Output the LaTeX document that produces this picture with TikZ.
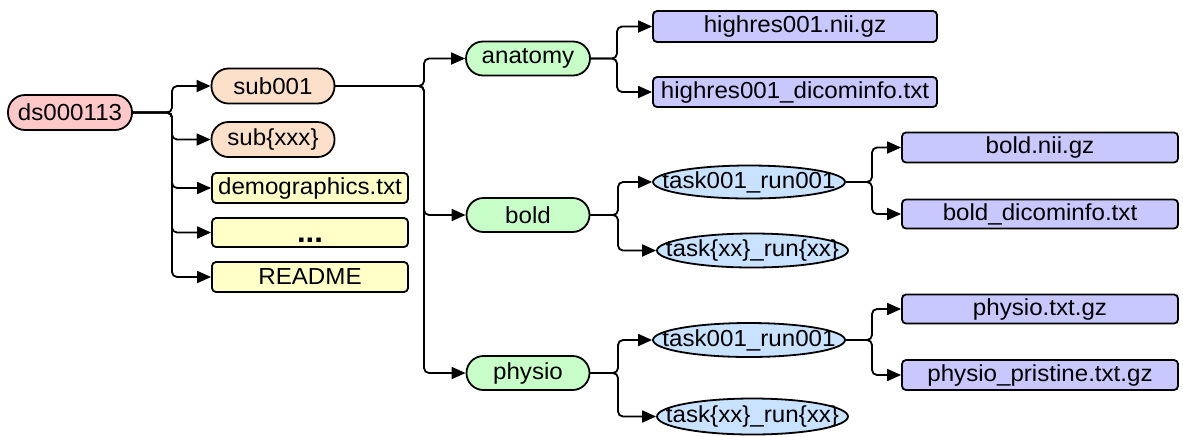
\documentclass[tikz,border=0pt]{standalone}
\usepackage{fontspec}
\setmainfont{Liberation Sans}[FakeStretch=1.04]
\usetikzlibrary{arrows.meta,shapes.geometric}
\definecolor{cds}{RGB}{255,200,200}
\definecolor{csub}{RGB}{252,224,202}
\definecolor{cyel}{RGB}{255,255,200}
\definecolor{cgrn}{RGB}{200,255,200}
\definecolor{cblu}{RGB}{200,226,255}
\definecolor{cfile}{RGB}{200,200,255}
\tikzset{
  base/.style={draw=black, line width=0.9pt, inner sep=0pt, font=\fontsize{11.6}{13}\selectfont, text=black},
  pill/.style={base, rectangle, rounded corners=8.5pt},
  oval/.style={base, ellipse},
  filebox/.style={base, rectangle, rounded corners=2pt},
  conn/.style={line width=0.9pt, rounded corners=2.5pt, -{Triangle[length=7pt,width=6pt]}},
}
\begin{document}
\begin{tikzpicture}[x=0.5pt,y=-0.5pt]
\useasboundingbox (0,0) rectangle (1183,436);
% level 0
\node[pill, fill=cds, minimum width=62pt, minimum height=17.5pt] (ds) at (70,112.5) {ds000113};
% level 1
\node[pill, fill=csub, minimum width=61.5pt, minimum height=17.5pt] (s1) at (273,86) {sub001};
\node[pill, fill=csub, minimum width=61.5pt, minimum height=17.5pt] (sx) at (273,139.5) {sub\{xxx\}};
\node[filebox, fill=cyel, minimum width=98pt, minimum height=15pt] (demo) at (310,188) {demographics.txt};
\node[filebox, fill=cyel, minimum width=98pt, minimum height=14.5pt] (dots) at (310,232.5) {\vphantom{Ag}\raisebox{-2.5pt}{\fontsize{15}{15}\selectfont\bfseries ...}};
\node[filebox, fill=cyel, minimum width=98pt, minimum height=15pt] (readme) at (310,277) {README};
% level 2
\node[pill, fill=cgrn, minimum width=62pt, minimum height=17pt] (anat) at (528,58.5) {anatomy};
\node[pill, fill=cgrn, minimum width=61.5pt, minimum height=17pt] (bold) at (528,215) {bold};
\node[pill, fill=cgrn, minimum width=61.5pt, minimum height=17pt] (phys) at (528,373) {physio};
% anatomy files
\node[filebox, fill=cfile, minimum width=142pt, minimum height=15.5pt] (hr) at (795,26.5) {highres001.nii.gz};
\node[filebox, fill=cfile, minimum width=142pt, minimum height=15pt] (hrd) at (795,92) {highres001\_dicominfo.txt};
% bold runs
\node[oval, fill=cblu, minimum width=96pt, minimum height=16.5pt] (bt1) at (749,182) {\makebox[0pt]{task001\_run001}};
\node[oval, fill=cblu, minimum width=95.5pt, minimum height=17pt] (btx) at (752.5,250.5) {\makebox[0pt]{task\{xx\}\_run\{xx\}}};
% physio runs
\node[oval, fill=cblu, minimum width=96pt, minimum height=17pt] (pt1) at (749,340) {\makebox[0pt]{task001\_run001}};
\node[oval, fill=cblu, minimum width=95.5pt, minimum height=18pt] (ptx) at (752.5,416.5) {\makebox[0pt]{task\{xx\}\_run\{xx\}}};
% files level 4
\node[filebox, fill=cfile, minimum width=138pt, minimum height=15pt] (bn) at (1040,147.5) {bold.nii.gz};
\node[filebox, fill=cfile, minimum width=138pt, minimum height=14.5pt] (bd) at (1040,214) {bold\_dicominfo.txt};
\node[filebox, fill=cfile, minimum width=138pt, minimum height=14.5pt] (pg) at (1040,309) {physio.txt.gz};
\node[filebox, fill=cfile, minimum width=138pt, minimum height=15pt] (pp) at (1040,375) {physio\_pristine.txt.gz};
% junctions
\coordinate (j1) at (172,112.5);
\coordinate (j2) at (424,86);
\coordinate (j3) at (617,58.5);
\coordinate (j4) at (618,215);
\coordinate (j5) at (618,373);
\coordinate (j6) at (872,182);
\coordinate (j7) at (872,340);
% connectors
\foreach \n in {s1,sx,demo,dots,readme} \draw[conn] (ds.east) -- (j1) |- (\n.west);
\foreach \n in {anat,bold,phys} \draw[conn] (s1.east) -- (j2) |- (\n.west);
\foreach \n in {hr,hrd} \draw[conn] (anat.east) -- (j3) |- (\n.west);
\foreach \n in {bt1,btx} \draw[conn] (bold.east) -- (j4) |- (\n.west);
\foreach \n in {pt1,ptx} \draw[conn] (phys.east) -- (j5) |- (\n.west);
\foreach \n in {bn,bd} \draw[conn] (bt1.east) -- (j6) |- (\n.west);
\foreach \n in {pg,pp} \draw[conn] (pt1.east) -- (j7) |- (\n.west);
\end{tikzpicture}
\end{document}
